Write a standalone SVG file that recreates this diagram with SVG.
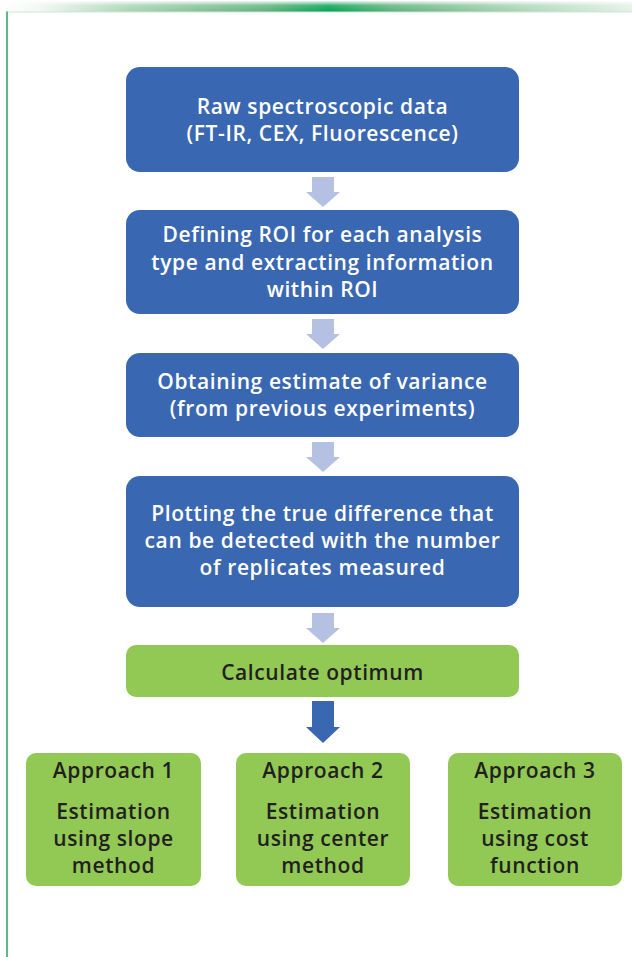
<svg xmlns="http://www.w3.org/2000/svg" width="632" height="957" viewBox="0 0 632 957">
  <defs>
    <linearGradient id="barH" x1="0" y1="0" x2="632" y2="0" gradientUnits="userSpaceOnUse">
      <stop offset="0" stop-color="#ffffff"/>
      <stop offset="0.06" stop-color="#f2f8f3"/>
      <stop offset="0.2" stop-color="#a9d4b4"/>
      <stop offset="0.42" stop-color="#5bb07a"/>
      <stop offset="0.52" stop-color="#00a04e"/>
      <stop offset="0.62" stop-color="#5bb07a"/>
      <stop offset="0.82" stop-color="#a9d4b4"/>
      <stop offset="1" stop-color="#e3f1e6"/>
    </linearGradient>
    <linearGradient id="barV" x1="0" y1="0" x2="0" y2="1">
      <stop offset="0" stop-color="#ffffff" stop-opacity="0.9"/>
      <stop offset="0.4" stop-color="#ffffff" stop-opacity="0.2"/>
      <stop offset="1" stop-color="#ffffff" stop-opacity="0"/>
    </linearGradient>
    <style>
      .blue { fill: #3a67b1; }
      .green { fill: #92c954; }
      .lt, .dk { font-family: "Open Sans", "Liberation Sans", sans-serif; font-weight: 600; font-size: 21px; letter-spacing: 0.6px; text-anchor: middle; }
      .lt { fill: #ffffff; }
      .dk { fill: #231f20; }
      .soft { fill: #b4c1e2; }
      .strong { fill: #3a67b1; }
    </style>
  </defs>

  <rect width="632" height="957" fill="#ffffff"/>

  <!-- page frame: gradient rule along the top, thin rules along top and left -->
  <rect x="0" y="1" width="632" height="11" fill="url(#barH)"/>
  <rect x="0" y="1" width="632" height="11" fill="url(#barV)"/>
  <line x1="6" y1="12" x2="632" y2="12" stroke="#cfe8d6" stroke-width="1"/>
  <line x1="7" y1="11.5" x2="7" y2="957" stroke="#37a764" stroke-width="1.6"/>

  <!-- process steps -->
  <g id="raw-data">
    <rect class="blue" x="126" y="67" width="393" height="105" rx="14"/>
    <text class="lt" x="322.5" y="114">Raw spectroscopic data</text>
    <text class="lt" x="322.5" y="141">(FT-IR, CEX, Fluorescence)</text>
  </g>

  <g id="define-roi">
    <rect class="blue" x="126" y="210" width="393" height="104" rx="14"/>
    <text class="lt" x="322.5" y="242">Defining ROI for each analysis</text>
    <text class="lt" x="322.5" y="270">type and extracting information</text>
    <text class="lt" x="322.5" y="297">within ROI</text>
  </g>

  <g id="variance">
    <rect class="blue" x="126" y="353" width="393" height="84" rx="14"/>
    <text class="lt" x="322.5" y="389">Obtaining estimate of variance</text>
    <text class="lt" x="322.5" y="416">(from previous experiments)</text>
  </g>

  <g id="true-difference">
    <rect class="blue" x="126" y="476" width="393" height="131" rx="14"/>
    <text class="lt" x="322.5" y="521">Plotting the true difference that</text>
    <text class="lt" x="322.5" y="548">can be detected with the number</text>
    <text class="lt" x="322.5" y="575">of replicates measured</text>
  </g>

  <g id="optimum">
    <rect class="green" x="126" y="645" width="393" height="52" rx="10"/>
    <text class="dk" x="322.5" y="680">Calculate optimum</text>
  </g>

  <g id="approach-1">
    <rect class="green" x="26" y="753" width="175" height="133" rx="10"/>
    <text class="dk" x="113.5" y="778">Approach 1</text>
    <text class="dk" x="113.5" y="819">Estimation</text>
    <text class="dk" x="113.5" y="846">using slope</text>
    <text class="dk" x="113.5" y="873">method</text>
  </g>

  <g id="approach-2">
    <rect class="green" x="236" y="753" width="174" height="133" rx="10"/>
    <text class="dk" x="323" y="778">Approach 2</text>
    <text class="dk" x="323" y="819">Estimation</text>
    <text class="dk" x="323" y="846">using center</text>
    <text class="dk" x="323" y="873">method</text>
  </g>

  <g id="approach-3">
    <rect class="green" x="448" y="753" width="174" height="133" rx="10"/>
    <text class="dk" x="535" y="778">Approach 3</text>
    <text class="dk" x="535" y="819">Estimation</text>
    <text class="dk" x="535" y="846">using cost</text>
    <text class="dk" x="535" y="873">function</text>
  </g>

  <!-- block arrows between steps -->
  <g id="connectors">
    <polygon class="soft" points="312,177 334,177 334,192 340,192 323,207 306,192 312,192"/>
    <polygon class="soft" points="312,319 334,319 334,334 340,334 323,349 306,334 312,334"/>
    <polygon class="soft" points="312,442 334,442 334,457 340,457 323,472 306,457 312,457"/>
    <polygon class="soft" points="312,613 334,613 334,628 340,628 323,643 306,628 312,628"/>
    <polygon class="strong" points="312,701 334,701 334,727 340,727 323,743 306,727 312,727"/>
  </g>
</svg>
